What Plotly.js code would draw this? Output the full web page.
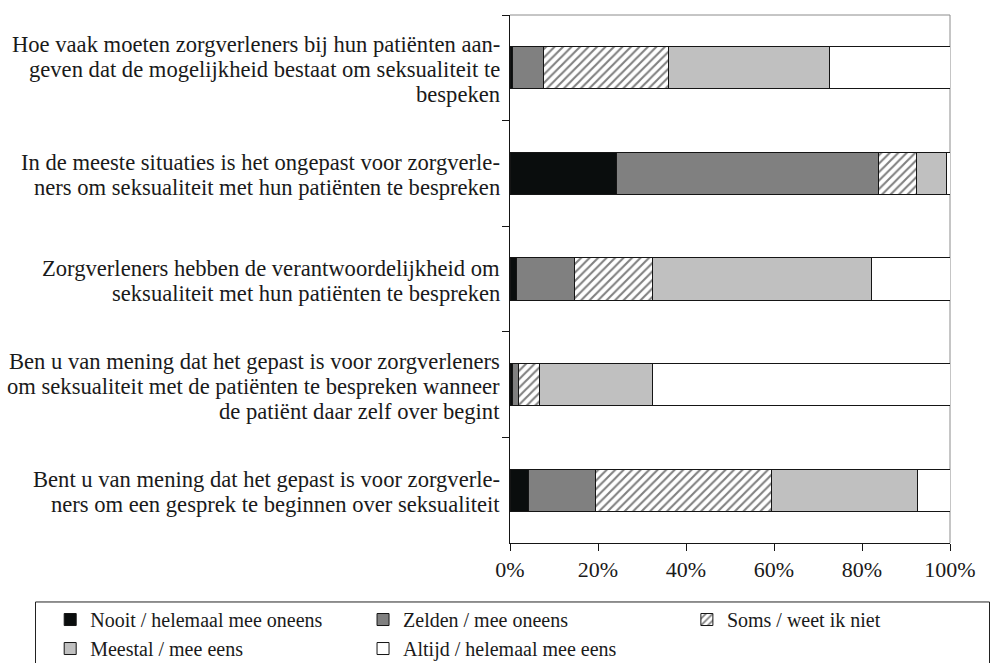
<!DOCTYPE html>
<html>
<head>
<meta charset="utf-8">
<script src="https://cdn.plot.ly/plotly-3.0.1.min.js"></script>
<style>html,body{margin:0;padding:0;background:#fff;}#chart{width:998px;height:663px;}</style>
</head>
<body>
<div id="chart"></div>
<script>
// Questions (each as lines of the label)
const questionLines = [
  ["Hoe vaak moeten zorgverleners bij hun patiënten aan-", "geven dat de mogelijkheid bestaat om seksualiteit te", "bespeken"],
  ["In de meeste situaties is het ongepast voor zorgverle-", "ners om seksualiteit met hun patiënten te bespreken"],
  ["Zorgverleners hebben de verantwoordelijkheid om", "seksualiteit met hun patiënten te bespreken"],
  ["Ben u van mening dat het gepast is voor zorgverleners", "om seksualiteit met de patiënten te bespreken wanneer", "de patiënt daar zelf over begint"],
  ["Bent u van mening dat het gepast is voor zorgverle-", "ners om een gesprek te beginnen over seksualiteit"]
];
const categories = questionLines.map(l => l.join(" "));

// Series names
const seriesNames = ["Nooit / helemaal mee oneens", "Zelden / mee oneens", "Soms / weet ik niet", "Meestal / mee eens", "Altijd / helemaal mee eens"];

// Shares (fraction of respondents), per question
const nooit   = [0.005, 0.242, 0.015, 0.006, 0.042];
const zelden  = [0.072, 0.596, 0.131, 0.014, 0.153];
const soms    = [0.283, 0.085, 0.178, 0.046, 0.400];
const meestal = [0.365, 0.069, 0.497, 0.257, 0.331];
const altijd  = [0.275, 0.008, 0.179, 0.677, 0.074];

const xTickVals = [0, 0.2, 0.4, 0.6, 0.8, 1.0];
const xTickText = ["0%", "20%", "40%", "60%", "80%", "100%"];

const FONT = "Liberation Serif";
const lineCol = "#151515";

function bar(name, vals, color, legend, pattern) {
  const t = {
    type: "bar", orientation: "h", name: name, x: vals, y: categories,
    width: 0.4, legend: legend,
    marker: { color: color, line: { color: lineCol, width: 1 } }
  };
  if (pattern) t.marker.pattern = pattern;
  return t;
}

const data = [
  bar(seriesNames[0], nooit, "#0a0d0d", "legend"),
  bar(seriesNames[1], zelden, "#808080", "legend2"),
  bar(seriesNames[2], soms, "#ffffff", "legend3",
      { shape: "/", bgcolor: "#ffffff", fgcolor: "#808080", size: 6, solidity: 0.35, fillmode: "replace" }),
  bar(seriesNames[3], meestal, "#c0c0c0", "legend"),
  bar(seriesNames[4], altijd, "#ffffff", "legend2")
];

// y-axis labels as annotations, one per line (tight line spacing)
const LINE_H = 25;
const annotations = [];
questionLines.forEach((lines, ci) => {
  const n = lines.length;
  lines.forEach((txt, i) => {
    annotations.push({
      xref: "paper", yref: "y", x: 0, y: categories[ci],
      xanchor: "right", yanchor: "middle",
      xshift: -8, yshift: -2 - (i - (n - 1) / 2) * LINE_H,
      text: txt, showarrow: false,
      font: { family: FONT, size: 22.6, color: "#1a1a1a" }
    });
  });
});

const legFont = { family: FONT, size: 20, color: "#1a1a1a" };
const legBase = { orientation: "v", xanchor: "left", yanchor: "top", y: -0.108,
  bgcolor: "rgba(0,0,0,0)", borderwidth: 0, font: legFont, itemwidth: 30, traceorder: "normal" };

const layout = {
  width: 998, height: 663,
  margin: { l: 510, r: 48, t: 15, b: 120, autoexpand: false },
  paper_bgcolor: "#ffffff", plot_bgcolor: "#ffffff",
  font: { family: FONT, color: "#1a1a1a" },
  barmode: "stack",
  bargap: 0.6,
  showlegend: true,
  xaxis: {
    range: [0, 1], tickvals: xTickVals, ticktext: xTickText,
    showgrid: false, zeroline: false, showline: true, linecolor: lineCol, linewidth: 1,
    ticks: "outside", ticklen: 7, tickcolor: lineCol, tickwidth: 1,
    tickfont: { family: FONT, size: 22, color: "#1a1a1a" }
  },
  yaxis: {
    type: "category", autorange: "reversed", showticklabels: false,
    tickson: "boundaries", ticks: "outside", ticklen: 7, tickcolor: lineCol, tickwidth: 1,
    showgrid: false, zeroline: false, showline: true, linecolor: lineCol, linewidth: 1
  },
  legend: Object.assign({}, legBase, { x: -1.045 }),
  legend2: Object.assign({}, legBase, { x: -0.334 }),
  legend3: Object.assign({}, legBase, { x: 0.402 }),
  annotations: annotations,
  shapes: [
    { type: "line", xref: "paper", yref: "paper", x0: 0, x1: 1, y0: 1, y1: 1, line: { color: "#8c8c8c", width: 1 }, layer: "below" },
    { type: "line", xref: "paper", yref: "paper", x0: 1, x1: 1, y0: 0, y1: 1, line: { color: "#8c8c8c", width: 1 }, layer: "below" },
    { type: "rect", xref: "paper", yref: "paper", x0: -1.0784, x1: 1.0898, y0: -0.1117, y1: -0.26, line: { color: "#222", width: 1 }, fillcolor: "rgba(0,0,0,0)" }
  ]
};

Plotly.newPlot("chart", data, layout, { displayModeBar: false, staticPlot: true });
</script>
</body>
</html>
